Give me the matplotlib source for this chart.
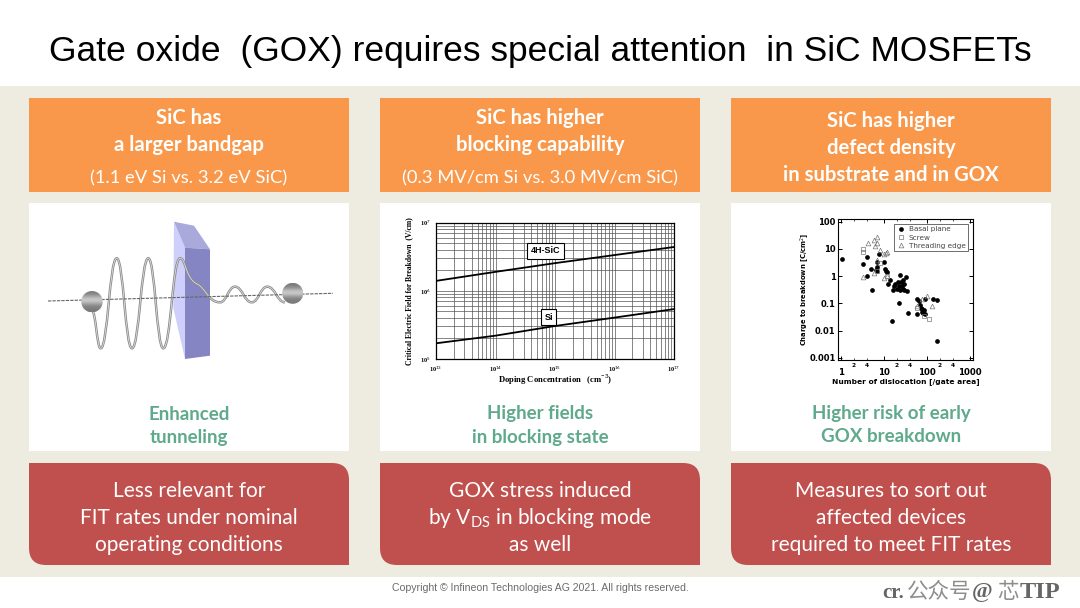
"""
Gate oxide slide: three columns with boxes, tunneling sketch and two log charts
"""

import numpy as np
import matplotlib
matplotlib.use("Agg")
import matplotlib.pyplot as plt
from matplotlib.lines import Line2D
from matplotlib.patches import Circle, PathPatch, Polygon, Rectangle
from matplotlib.path import Path

plt.rcParams["mathtext.fontset"] = "custom"
plt.rcParams["mathtext.rm"] = "Lato"
plt.rcParams["mathtext.bf"] = "Lato:bold"

# Slide text
title = "Gate oxide  (GOX) requires special attention  in SiC MOSFETs"
orange_text = [
    [("SiC has", True), ("a larger bandgap", True), ("(1.1 eV Si vs. 3.2 eV SiC)", False)],
    [("SiC has higher", True), ("blocking capability", True), ("(0.3 MV/cm Si vs. 3.0 MV/cm SiC)", False)],
    [("SiC has higher", True), ("defect density", True), ("in substrate and in GOX", True)],
]
green_text = [
    ["Enhanced", "tunneling"],
    ["Higher fields", "in blocking state"],
    ["Higher risk of early", "GOX breakdown"],
]
red_text = [
    ["Less relevant for", "FIT rates under nominal", "operating conditions"],
    ["GOX stress induced", r"by V$_{\mathrm{DS}}$ in blocking mode", "as well"],
    ["Measures to sort out", "affected devices", "required to meet FIT rates"],
]
footer = "Copyright © Infineon Technologies AG 2021. All rights reserved."

# Breakdown field chart
doping = [1e13, 1e14, 1e15, 1e16, 1e17]
field_4h = [1.4e6, 1.9e6, 2.55e6, 3.35e6, 4.4e6]
field_si = [1.7e5, 2.2e5, 3.05e5, 4.05e5, 5.4e5]

# Charge to breakdown chart
basal_x = [1.05, 3.2, 4.1, 4, 5, 5.2, 6.5, 7, 7, 7, 7.5, 10, 10.5, 11, 12, 12.5, 14, 15, 16, 17, 18, 20, 21, 22, 22,
           23, 24, 25, 26, 27, 28, 29, 30, 32, 34, 36, 60, 60, 65, 68, 72, 75, 78, 80, 85, 88, 90, 140, 170, 175]
basal_y = [4.2, 2.7, 5.2, 1, 1.8, 0.31, 1.7, 3.2, 2.2, 1.6, 6.5, 3.2, 1.9, 1.5, 1.4, 0.52, 0.75, 0.023, 0.3, 0.42,
           0.5, 0.35, 0.6, 0.1, 0.42, 1.15, 0.3, 0.6, 0.45, 0.75, 0.35, 0.5, 0.3, 0.9, 0.28, 0.045, 0.04, 0.14,
           0.12, 0.09, 0.07, 0.05, 0.06, 0.045, 0.055, 0.04, 0.15, 0.14, 0.13, 0.004]
screw_x = [3.2, 3.2, 7, 8, 12, 60, 85, 110]
screw_y = [10, 7.5, 1.5, 3, 1, 0.07, 0.035, 0.026]
thread_x = [3.3, 4.2, 5.8, 6.3, 6.8, 7, 7, 8, 10, 11, 12, 10, 6, 12, 60, 100, 130, 75]
thread_y = [0.9, 17, 22, 13, 27, 17, 4, 9, 6.5, 7, 8, 0.85, 1.3, 1, 0.08, 0.18, 0.08, 0.15]

W, H = 1080, 608
COLS = [29, 380, 731]
BOX_W = 320
ORANGE = "#F9984A"
RED = "#C0504D"
GREEN = "#5FA98C"


def add_px_axes(fig, left, top, right, bottom):
    """Axes placed with slide pixel coordinates"""
    return fig.add_axes([left / W, 1 - bottom / H, (right - left) / W, (bottom - top) / H])


def red_box(x, y, w, h, r=17):
    """Rectangle with rounded top-right and bottom-left corners"""
    verts = [(x, y), (x + w - r, y), (x + w, y), (x + w, y + r), (x + w, y + h), (x + r, y + h),
             (x, y + h), (x, y + h - r), (x, y)]
    codes = [Path.MOVETO, Path.LINETO, Path.CURVE3, Path.CURVE3, Path.LINETO, Path.LINETO,
             Path.CURVE3, Path.CURVE3, Path.CLOSEPOLY]
    return PathPatch(Path(verts, codes), facecolor=RED, edgecolor="none")


def draw_sphere(ax, cx, cy, r):
    """Grey ball with a bright band"""
    n = 60
    xx, yy = np.meshgrid(np.linspace(cx - r, cx + r, n), np.linspace(cy - r, cy + r, n))
    shade = 0.48 + 0.3 * np.exp(-((yy - cy + r * 0.1) / (r * 0.45)) ** 2)
    im = ax.imshow(shade, extent=(cx - r, cx + r, cy + r, cy - r), cmap="gray", vmin=0, vmax=1,
                   zorder=4, aspect="auto")
    im.set_clip_path(Circle((cx, cy), r, transform=ax.transData))


def draw_tunneling(ax):
    ax.plot([48, 333], [301, 293.3], color="#666666", lw=0.8, ls=(0, (3, 1)), zorder=3)

    ax.add_patch(Polygon([(174, 221.7), (185, 247.7), (185, 359), (173.3, 308)], color="#CFCFFB", lw=0, zorder=1))
    ax.add_patch(Polygon([(174, 221.7), (194, 225.7), (210, 249.3), (185, 247.7)], color="#A9A9DC", lw=0, zorder=1))
    ax.add_patch(Polygon([(185, 247.7), (210, 249.3), (210, 355.7), (185, 359)], color="#8585C4", lw=0, zorder=1))

    # curve through the wave extremes
    ext = [(92, 311), (100.7, 348.3), (116.7, 258.3), (132, 348.3), (148.3, 258.3), (163.3, 348.3), (180, 258.3)]
    verts = [ext[0]]
    codes = [Path.MOVETO]
    for (x0, y0), (x1, y1) in zip(ext[:-1], ext[1:]):
        dx = (x1 - x0) * 0.45
        verts += [(x0 + dx, y0), (x1 - dx, y1), (x1, y1)]
        codes += [Path.CURVE4] * 3
    verts += [(186, 258.3), (185, 278), (197, 284), (206, 288), (208, 302.3), (220, 302.3)]
    codes += [Path.CURVE4] * 6
    tail = [(220, 302.3), (235, 286.7), (251.7, 302.3), (267.3, 286.7), (285, 302.3)]
    for (x0, y0), (x1, y1) in zip(tail[:-1], tail[1:]):
        dx = (x1 - x0) * 0.45
        verts += [(x0 + dx, y0), (x1 - dx, y1), (x1, y1)]
        codes += [Path.CURVE4] * 3
    wave = Path(verts, codes)
    ax.add_patch(PathPatch(wave, fill=False, edgecolor="#8A8A8A", lw=1.8, zorder=2))
    ax.add_patch(PathPatch(wave, fill=False, edgecolor="#DDDDDD", lw=0.6, zorder=2))

    draw_sphere(ax, 92, 301.7, 10.7)
    draw_sphere(ax, 292.7, 293.3, 10.5)


def draw_field_chart(fig):
    ax = add_px_axes(fig, 436, 222.7, 674, 359)
    ax.set_xscale("log")
    ax.set_yscale("log")
    ax.set_xlim(1e13, 1e17)
    ax.set_ylim(1e5, 1e7)
    ax.plot(doping, field_4h, color="black", lw=1.3, zorder=3)
    ax.plot(doping, field_si, color="black", lw=1.3, zorder=3)
    ax.grid(True, which="both", color="#555555", lw=0.5)
    ax.tick_params(which="both", length=0)
    ax.set_xticks(doping)
    ax.set_xticklabels([r"10$^{%d}$" % e for e in [13, 14, 15, 16, 17]], family="Liberation Serif",
                       fontsize=4.5, fontweight="bold")
    ax.set_yticks([1e5, 1e6, 1e7])
    ax.set_yticklabels([r"10$^{5}$", r"10$^{6}$", r"10$^{7}$"], family="Liberation Serif", fontsize=4.5,
                       fontweight="bold")
    ax.tick_params(axis="x", pad=4)
    ax.tick_params(axis="y", pad=4)
    for s in ax.spines.values():
        s.set_linewidth(0.9)
    ax.set_xlabel("Doping Concentration   (cm$^{-3}$)", family="Liberation Serif", fontsize=6.2,
                  fontweight="bold", labelpad=-1)
    ax.set_ylabel("Critical Electric Field for Breakdown  (V/cm)", family="Liberation Serif", fontsize=5.5,
                  fontweight="bold", labelpad=4.5)
    box = dict(boxstyle="square,pad=0.4", fc="white", ec="black", lw=0.8)
    ax.text(7e14, 3.85e6, "4H-SiC", fontsize=6.5, fontweight="bold", family="Liberation Sans",
            ha="center", va="center", bbox=box, zorder=4)
    ax.text(7.8e14, 4.13e5, "Si", fontsize=6.5, fontweight="bold", family="Liberation Sans",
            ha="center", va="center", bbox=box, zorder=4)


def draw_charge_chart(fig):
    ax = add_px_axes(fig, 838.3, 219, 973.3, 360)
    ax.set_xscale("log")
    ax.set_yscale("log")
    ax.set_xlim(0.865, 1200)
    ax.set_ylim(8.3e-4, 126)
    ax.plot(basal_x, basal_y, "o", color="black", ms=3.4, mew=0, label="Basal plane")
    ax.plot(screw_x, screw_y, "s", mfc="none", mec="#777777", ms=3, mew=0.5, label="Screw")
    ax.plot(thread_x, thread_y, "^", mfc="none", mec="#777777", ms=3.4, mew=0.5, label="Threading edge")
    ax.set_xticks([1, 10, 100, 1000])
    ax.set_xticklabels(["1", "10", "100", "1000"], fontsize=6.2, fontweight="bold")
    ax.set_yticks([0.001, 0.01, 0.1, 1, 10, 100])
    ax.set_yticklabels(["0.001", "0.01", "0.1", "1", "10", "100"], fontsize=6, fontweight="bold")
    minor = [m * 10 ** e for e in range(0, 3) for m in [2, 4]]
    ax.set_xticks(minor, labels=["2", "4"] * 3, minor=True, fontsize=4.2, fontweight="bold")
    ax.tick_params(axis="x", which="minor", length=1.5, width=0.5, direction="in", pad=2, top=True)
    ax.tick_params(axis="x", which="major", length=3, width=0.7, direction="in", pad=6, top=True)
    ax.tick_params(axis="y", which="major", length=3, width=0.7, direction="in", pad=2, right=True)
    ax.tick_params(axis="y", which="minor", length=1.5, width=0.5, direction="in", right=True, labelleft=False)
    for s in ax.spines.values():
        s.set_linewidth(0.8)
    ax.set_xlabel("Number of dislocation [/gate area]", fontsize=5.4, fontweight="bold", labelpad=0.5)
    ax.set_ylabel("Charge to breakdown [C/cm$^2$]", fontsize=4.9, fontweight="bold", labelpad=-1)
    handles = [
        Line2D([], [], marker="o", ls="", color="black", ms=3.4, mew=0),
        Line2D([], [], marker="s", ls="", mfc="none", mec="#777777", ms=3, mew=0.5),
        Line2D([], [], marker="^", ls="", mfc="none", mec="#777777", ms=3.4, mew=0.5),
    ]
    leg = ax.legend(handles, ["Basal plane", "Screw", "Threading edge"], loc="upper right", fontsize=5.2,
                    frameon=True, fancybox=False, edgecolor="#333333", framealpha=1, borderpad=0.35,
                    labelspacing=0.3, handletextpad=0.5, borderaxespad=0.68, handlelength=1.2)
    leg.get_frame().set_linewidth(0.5)
    for t in leg.get_texts():
        t.set_color("#444444")


fig = plt.figure(figsize=(W / 100, H / 100), dpi=100, facecolor="white")
bg = fig.add_axes([0, 0, 1, 1])
bg.set_xlim(0, W)
bg.set_ylim(H, 0)
bg.axis("off")

bg.text(540, 51, title, ha="center", va="center", fontsize=25.45, family="Liberation Sans", color="black")
bg.add_patch(Rectangle((0, 86), W, 491, color="#EEEBE1", lw=0, zorder=0))

text_y = [
    [118, 145, 178],
    [118, 145, 178],
    [121, 148, 175],
]
for i, x in enumerate(COLS):
    bg.add_patch(Rectangle((x, 98), BOX_W, 94, color=ORANGE, lw=0, zorder=1))
    bg.add_patch(Rectangle((x, 203), BOX_W, 248, color="white", lw=0, zorder=1))
    bg.add_patch(red_box(x, 463, BOX_W, 102))
    for (line, bold), y in zip(orange_text[i], text_y[i]):
        bg.text(x + BOX_W / 2, y, line, ha="center", va="center", color="white", family="Lato",
                fontsize=14.6 if bold else 13.2, fontweight="bold" if bold else "normal", zorder=3)
    for line, y in zip(green_text[i], [414, 437]):
        bg.text(x + BOX_W / 2, y, line, ha="center", va="center", color=GREEN, family="Lato",
                fontsize=13.5, fontweight="bold", zorder=3)
    for line, y in zip(red_text[i], [491, 518, 545]):
        bg.text(x + BOX_W / 2, y, line, ha="center", va="center", color="white", family="Lato",
                fontsize=15, zorder=3)

bg.text(540, 588, footer, ha="center", va="center", fontsize=7.6, family="Liberation Sans", color="#6B6B6B")

# watermark
SERIF_GREY = "#666666"
CJK_GREY = "#8E8E8E"
bg.text(882, 593, "cr.", ha="left", va="center", fontsize=15, fontweight="bold", family="Liberation Serif", color=SERIF_GREY)
bg.text(907, 592, "公众号", ha="left", va="center", fontsize=15.5, family="Noto Sans CJK SC", color=CJK_GREY)
bg.text(972, 592, "@", ha="left", va="center", fontsize=16, fontweight="bold", family="Liberation Serif", color=SERIF_GREY)
bg.text(997, 592, "芯", ha="left", va="center", fontsize=15.5, family="Noto Sans CJK SC", color=CJK_GREY)
bg.text(1020, 592, "TIP", ha="left", va="center", fontsize=17.5, fontweight="bold", family="Liberation Serif", color=SERIF_GREY)

draw_tunneling(bg)
bg.set_xlim(0, W)
bg.set_ylim(H, 0)
bg.set_aspect("auto")
draw_field_chart(fig)
draw_charge_chart(fig)

fig.savefig("out.png", dpi=100)
